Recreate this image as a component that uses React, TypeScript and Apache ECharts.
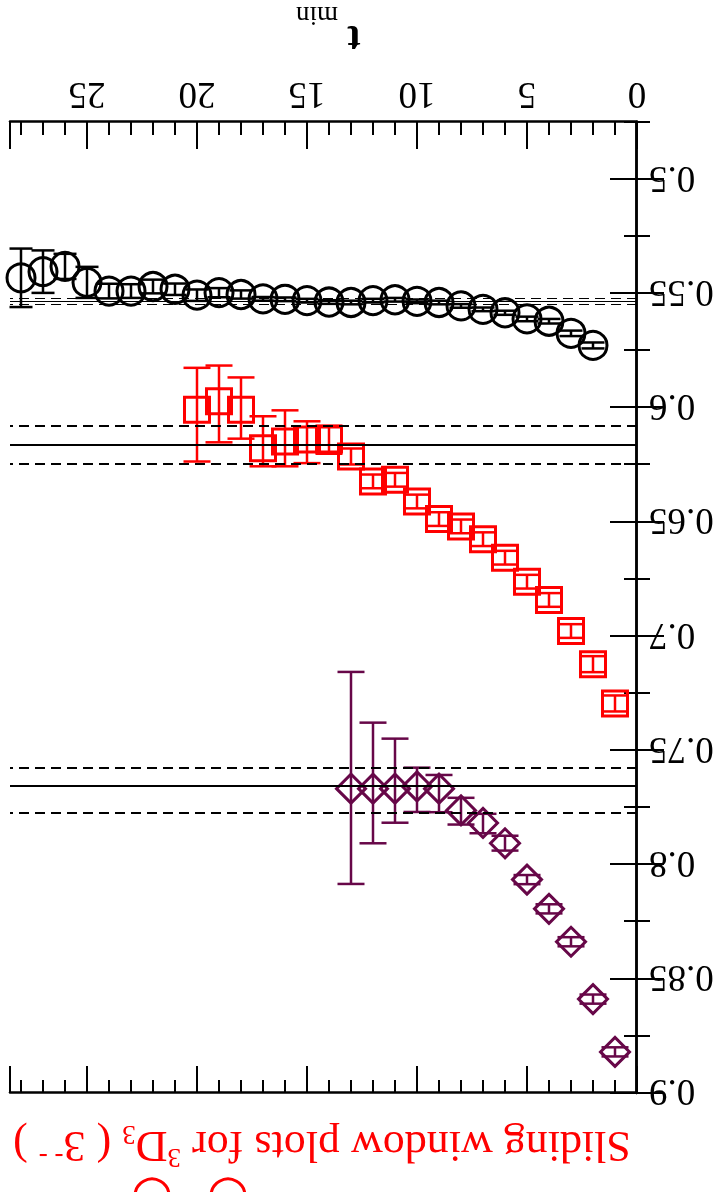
import React, { useEffect, useRef } from "react";
import * as echarts from "echarts";

// ---- data ----
const tBlack = [2, 3, 4, 5, 6, 7, 8, 9, 10, 11, 12, 13, 14, 15, 16, 17, 18, 19, 20, 21, 22, 23, 24, 25, 26, 27, 28];
const vBlack = [0.5728, 0.5675, 0.5622, 0.5612, 0.5585, 0.557, 0.5555, 0.554, 0.5535, 0.5528, 0.5532, 0.554, 0.5538, 0.5532, 0.5526, 0.5524, 0.5505, 0.5497, 0.5508, 0.5482, 0.547, 0.549, 0.549, 0.5452, 0.5382, 0.5405, 0.5432];
const eBlack = [0.0013, 0.0012, 0.001, 0.001, 0.0009, 0.0008, 0.0008, 0.0008, 0.0008, 0.0008, 0.0008, 0.0008, 0.0008, 0.0008, 0.0008, 0.0008, 0.0018, 0.002, 0.0025, 0.0025, 0.003, 0.003, 0.0032, 0.0068, 0.0055, 0.0093, 0.0128];

const tRed = [1, 2, 3, 4, 5, 6, 7, 8, 9, 10, 11, 12, 13, 14, 15, 16, 17, 18, 19, 20];
const vRed = [0.7295, 0.7123, 0.6978, 0.6842, 0.6762, 0.6657, 0.6576, 0.652, 0.6488, 0.6411, 0.6316, 0.6323, 0.6214, 0.614, 0.614, 0.6148, 0.6178, 0.6009, 0.5972, 0.6009];
const eRedLo = [0.0035, 0.0035, 0.003, 0.003, 0.003, 0.003, 0.003, 0.003, 0.003, 0.003, 0.003, 0.003, 0.0035, 0.0061, 0.008, 0.0136, 0.014, 0.0141, 0.0156, 0.0183];
const eRedHi = [0.0035, 0.0035, 0.003, 0.003, 0.003, 0.003, 0.003, 0.003, 0.003, 0.003, 0.003, 0.003, 0.0035, 0.0062, 0.0103, 0.0109, 0.0079, 0.0127, 0.018, 0.0227];

const tPur = [1, 2, 3, 4, 5, 6, 7, 8, 9, 10, 11, 12, 13];
const vPur = [0.882, 0.8589, 0.8338, 0.8194, 0.8066, 0.7907, 0.7818, 0.7763, 0.7668, 0.7658, 0.7668, 0.7668, 0.7668];
const ePurLo = [0.002, 0.002, 0.002, 0.002, 0.002, 0.0033, 0.004, 0.0055, 0.006, 0.0082, 0.0219, 0.0289, 0.0511];
const ePurHi = [0.002, 0.002, 0.002, 0.002, 0.002, 0.0032, 0.0045, 0.0062, 0.0103, 0.0112, 0.0149, 0.0239, 0.0417];

// fit bands: [lower, centre, upper]
const bandBlack = [0.5524, 0.5537, 0.555];
const bandRed = [0.6082, 0.6165, 0.6249];
const bandPur = [0.7578, 0.7657, 0.7775];

const xMajorLabels = [0, 5, 10, 15, 20, 25];
const yMajorTicks = [0.5, 0.55, 0.6, 0.65, 0.7, 0.75, 0.8, 0.85, 0.9];

const BLACK = "#000000";
const RED = "#ff0000";
const PURPLE = "#670748";
const SERIF = "Liberation Serif, DejaVu Serif, serif";

function errSeries(t: number[], v: number[], lo: number[], hi: number[], color: string, capW: number, lw: number) {
  return {
    type: "custom",
    xAxisIndex: 0,
    yAxisIndex: 0,
    z: 3,
    silent: true,
    encode: { x: 0, y: [1, 2] },
    data: t.map((x, i) => [x, v[i] - lo[i], v[i] + hi[i]]),
    renderItem: (params: any, api: any) => {
      const x = api.value(0);
      const p1 = api.coord([x, api.value(1)]);
      const p2 = api.coord([x, api.value(2)]);
      const h = capW / 2;
      const st = { stroke: color, lineWidth: lw };
      return {
        type: "group",
        children: [
          { type: "line", shape: { x1: p1[0], y1: p1[1], x2: p2[0], y2: p2[1] }, style: st },
          { type: "line", shape: { x1: p1[0] - h, y1: p1[1], x2: p1[0] + h, y2: p1[1] }, style: st },
          { type: "line", shape: { x1: p2[0] - h, y1: p2[1], x2: p2[0] + h, y2: p2[1] }, style: st },
        ],
      };
    },
  };
}

function markerSeries(t: number[], v: number[], symbol: string, size: number[], color: string, bw: number) {
  return {
    type: "scatter",
    xAxisIndex: 0,
    yAxisIndex: 0,
    z: 4,
    symbol,
    symbolSize: size,
    itemStyle: { color: "rgba(0,0,0,0)", borderColor: color, borderWidth: bw, opacity: 1 },
    data: t.map((x, i) => [x, v[i]]),
  };
}

function bandLines(b: number[], w: number) {
  return [
    { yAxis: b[0], lineStyle: { type: [10, 6], color: BLACK, width: w } },
    { yAxis: b[1], lineStyle: { type: "solid", color: BLACK, width: w } },
    { yAxis: b[2], lineStyle: { type: [10, 6], color: BLACK, width: w } },
  ];
}

export default function App() {
  const ref = useRef<HTMLDivElement>(null);
  useEffect(() => {
    if (!ref.current) return;
    const chart = echarts.init(ref.current, null, { renderer: "svg" });
    const xBase = { type: "value", min: 0, max: 28.5, gridIndex: 0, splitLine: { show: false } };
    const yBase = { type: "value", min: 0.475, max: 0.9, gridIndex: 0, splitLine: { show: false } };
    const tickStyle = { color: BLACK, width: 2 };
    const labelStyle = { color: BLACK, fontFamily: SERIF, fontSize: 37 };
    const option: any = {
      animation: false,
      backgroundColor: "#ffffff",
      grid: { left: 83, right: 10, top: 99, bottom: 122, containLabel: false },
      xAxis: [
        { ...xBase, position: "bottom", interval: 1, axisLine: { show: true, lineStyle: { color: BLACK, width: 2.5 } }, axisTick: { inside: true, length: 13, lineStyle: tickStyle }, axisLabel: { show: false } },
        { ...xBase, position: "bottom", interval: 5, axisLine: { show: false }, axisTick: { inside: true, length: 27, lineStyle: tickStyle }, axisLabel: { ...labelStyle, margin: 8, formatter: (v: number) => (xMajorLabels.indexOf(v) >= 0 ? String(v) : "") } },
        { ...xBase, position: "top", interval: 1, axisLine: { show: true, lineStyle: { color: BLACK, width: 2.5 } }, axisTick: { inside: true, length: 13, lineStyle: tickStyle }, axisLabel: { show: false } },
        { ...xBase, position: "top", interval: 5, axisLine: { show: false }, axisTick: { inside: true, length: 27, lineStyle: tickStyle }, axisLabel: { show: false } },
      ],
      yAxis: [
        { ...yBase, position: "left", interval: 0.025, axisLine: { show: true, lineStyle: { color: BLACK, width: 2.5 } }, axisTick: { inside: true, length: 13, lineStyle: tickStyle }, axisLabel: { show: false } },
        { ...yBase, position: "left", interval: 0.025, axisLine: { show: false }, axisTick: { inside: true, length: 27, lineStyle: tickStyle, customValues: yMajorTicks }, axisLabel: { ...labelStyle, margin: 12, customValues: yMajorTicks, formatter: (v: number) => String(Math.round(v * 1000) / 1000) } },
        { ...yBase, position: "right", interval: 0.025, axisLine: { show: true, lineStyle: { color: BLACK, width: 2.5 } }, axisTick: { inside: true, length: 13, lineStyle: tickStyle }, axisLabel: { show: false } },
        { ...yBase, position: "right", interval: 0.025, axisLine: { show: false }, axisTick: { inside: true, length: 27, lineStyle: tickStyle, customValues: yMajorTicks }, axisLabel: { show: false } },
      ],
      series: [
        {
          type: "line",
          xAxisIndex: 0,
          yAxisIndex: 0,
          data: [],
          z: 1,
          markLine: {
            silent: true,
            precision: 6,
            symbol: ["none", "none"],
            label: { show: false },
            data: [...bandLines(bandBlack, 1.2), ...bandLines(bandRed, 2), ...bandLines(bandPur, 2)],
          },
        },
        errSeries(tBlack, vBlack, eBlack, eBlack, BLACK, 23, 2.5),
        markerSeries(tBlack, vBlack, "circle", [28, 28], BLACK, 3),
        errSeries(tRed, vRed, eRedLo, eRedHi, RED, 27, 2.5),
        markerSeries(tRed, vRed, "rect", [25, 25], RED, 3),
        errSeries(tPur, vPur, ePurLo, ePurHi, PURPLE, 27, 2.5),
        markerSeries(tPur, vPur, "diamond", [29, 29], PURPLE, 3),
      ],
      graphic: [
        {
          type: "text",
          x: 398,
          y: 45,
          style: {
            text: "{n|Sliding window plots for }{s|3}{n|D}{b|3}{n| ( 3}{s|- -}{n| )}",
            align: "center",
            verticalAlign: "middle",
            fill: RED,
            font: "44px " + SERIF,
            rich: {
              n: { fontSize: 44, fontFamily: SERIF, fill: RED, lineHeight: 50, verticalAlign: "middle" },
              s: { fontSize: 27, fontFamily: SERIF, fill: RED, lineHeight: 27, verticalAlign: "top" },
              b: { fontSize: 27, fontFamily: SERIF, fill: RED, lineHeight: 27, verticalAlign: "bottom" },
            },
          },
        },
        {
          type: "text",
          x: 366,
          y: 1152,
          style: { text: "t", align: "center", verticalAlign: "middle", fill: BLACK, font: "bold 40px " + SERIF },
        },
        {
          type: "text",
          x: 403,
          y: 1176,
          style: { text: "min", align: "center", verticalAlign: "middle", fill: BLACK, font: "27px " + SERIF },
        },
        { type: "circle", shape: { cx: 568, cy: -4, r: 17 }, style: { fill: "none", stroke: RED, lineWidth: 3 } },
        { type: "circle", shape: { cx: 492, cy: -4, r: 17 }, style: { fill: "none", stroke: RED, lineWidth: 3 } },
      ],
    };
    chart.setOption(option);
    return () => chart.dispose();
  }, []);
  return (
    <div
      ref={ref}
      style={{ position: "fixed", left: 0, top: 0, width: 720, height: 1192, transform: "rotate(180deg)", background: "#fff" }}
    />
  );
}
